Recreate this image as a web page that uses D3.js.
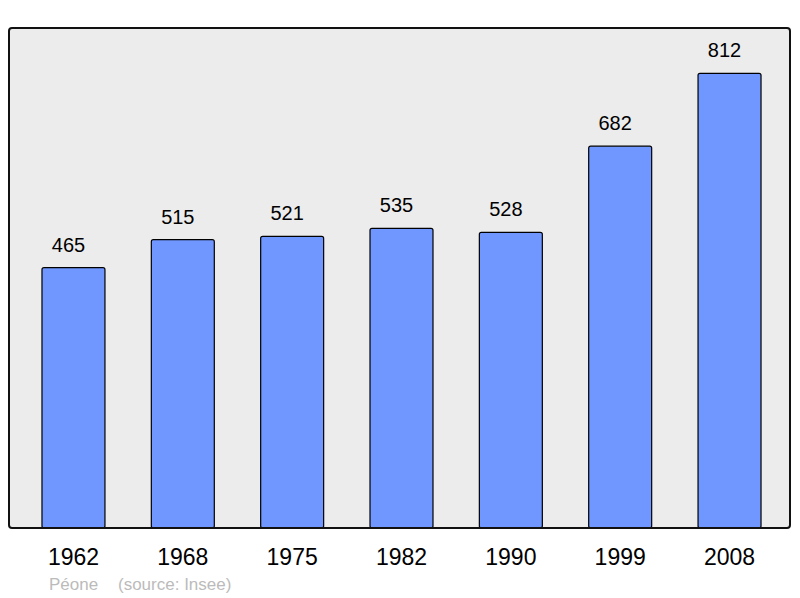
<!DOCTYPE html>
<html>
<head>
<meta charset="utf-8">
<script src="https://cdn.jsdelivr.net/npm/d3@7"></script>
<style>
  body { margin: 0; background: #fff; }
  svg { display: block; font-family: "Liberation Sans", Arial, sans-serif; }
</style>
</head>
<body>
<div id="chart"></div>
<script>
const years = ["1962", "1968", "1975", "1982", "1990", "1999", "2008"];
const population = [465, 515, 521, 535, 528, 682, 812];

const width = 800, height = 598;
const frame = { left: 9, top: 28, right: 790, bottom: 528 };

const svg = d3.select("#chart").append("svg")
  .attr("width", width).attr("height", height);

// plot background
svg.append("rect")
  .attr("x", frame.left).attr("y", frame.top)
  .attr("width", frame.right - frame.left)
  .attr("height", frame.bottom - frame.top)
  .attr("rx", 3)
  .attr("fill", "#ececec");

const x = d3.scaleBand()
  .domain(years)
  .range([18.8, 784.2])
  .paddingInner(0.424)
  .paddingOuter(0.212);

const y = d3.scaleLinear()
  .domain([0, 893])
  .range([frame.bottom, frame.top]);

const bars = svg.append("g");
bars.selectAll("rect")
  .data(population)
  .join("rect")
  .attr("x", (d, i) => x(years[i]))
  .attr("y", d => y(d))
  .attr("width", x.bandwidth())
  .attr("height", d => y(0) - y(d))
  .attr("rx", 2)
  .attr("fill", "#7097ff")
  .attr("stroke", "#000")
  .attr("stroke-width", 1.2);

// value labels (sit slightly left of the bar centre, like the original)
svg.append("g").selectAll("text")
  .data(population)
  .join("text")
  .attr("x", (d, i) => x(years[i]) + x.bandwidth() / 2 - 5)
  .attr("y", d => y(d) - 16)
  .attr("text-anchor", "middle")
  .attr("font-size", 20)
  .attr("fill", "#000")
  .text(d => d);

// frame border on top of bars
svg.append("rect")
  .attr("x", frame.left).attr("y", frame.top)
  .attr("width", frame.right - frame.left)
  .attr("height", frame.bottom - frame.top)
  .attr("rx", 3)
  .attr("fill", "none")
  .attr("stroke", "#111")
  .attr("stroke-width", 2);

// x axis labels
const xAxis = d3.axisBottom(x).tickSize(0).tickPadding(0);
const gx = svg.append("g")
  .attr("transform", `translate(0, ${frame.bottom})`)
  .call(xAxis);
gx.select(".domain").remove();
gx.selectAll("text")
  .attr("dy", null)
  .attr("y", 37)
  .attr("font-size", 23)
  .attr("font-family", "Liberation Sans, Arial, sans-serif")
  .attr("fill", "#000");

// footer
svg.append("text")
  .attr("x", 49).attr("y", 590)
  .attr("font-size", 17)
  .attr("fill", "#bbb")
  .text("Péone");
svg.append("text")
  .attr("x", 118).attr("y", 590)
  .attr("font-size", 17)
  .attr("fill", "#bbb")
  .text("(source: Insee)");
</script>
</body>
</html>
